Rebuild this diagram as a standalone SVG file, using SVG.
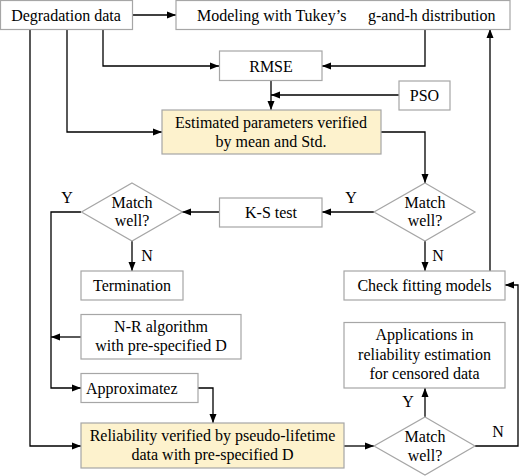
<svg xmlns="http://www.w3.org/2000/svg" width="520" height="476" viewBox="0 0 520 476">
<defs>
<marker id="ah" markerUnits="userSpaceOnUse" markerWidth="9" markerHeight="8" refX="9" refY="4" orient="auto">
<path d="M0,0.5 L9,4 L0,7.5 Z" fill="#000"/>
</marker>
<style>
.box{fill:#fff;stroke:#a6a6a6;stroke-width:1.2}
.hl{fill:#fdf2cd;stroke:#a6a6a6;stroke-width:1.2}
.dm{fill:#fff;stroke:#a6a6a6;stroke-width:1.2}
text{font-family:"Liberation Serif","Times New Roman",serif;font-size:16px;fill:#000}
.c{text-anchor:middle}
.cn{fill:none;stroke:#000;stroke-width:1.3}
.ar{marker-end:url(#ah)}
</style>
</defs>
<rect width="520" height="476" fill="#fff"/>
<g id="connectors">
<path class="cn ar" d="M132,15 H176"/>
<path class="cn ar" d="M103,29 V66 H219"/>
<path class="cn ar" d="M425,29 V66 H322"/>
<path class="cn ar" d="M271,80 V110"/>
<path class="cn ar" d="M399,95 H271"/>
<path class="cn ar" d="M67,29 V132 H162"/>
<path class="cn ar" d="M381,132 H425 V183"/>
<path class="cn ar" d="M30,29 V446 H81"/>
<path class="cn ar" d="M374,212 H322"/>
<path class="cn ar" d="M219,212 H182"/>
<path class="cn ar" d="M132,241 V271"/>
<path class="cn ar" d="M425,241 V271"/>
<path class="cn ar" d="M490,271 V29"/>
<path class="cn ar" d="M81,212 H51 V388 H81"/>
<path class="cn ar" d="M81,337 H51"/>
<path class="cn ar" d="M198,388 H213 V423"/>
<path class="cn ar" d="M344,446 H374"/>
<path class="cn ar" d="M425,417 V388"/>
<path class="cn ar" d="M475,446 H518 V285 H505"/>
</g>
<g id="labels">
<text class="c" x="67" y="203">Y</text>
<text class="c" x="351" y="203">Y</text>
<text class="c" x="147" y="261">N</text>
<text class="c" x="438" y="261">N</text>
<text class="c" x="408" y="407">Y</text>
<text class="c" x="498" y="437">N</text>
</g>
<g id="degradation">
<rect class="box" x="0.5" y="0.5" width="132" height="29"/>
<text class="c" x="66" y="21">Degradation data</text>
</g>
<g id="modeling">
<rect class="box" x="176" y="0.5" width="334" height="29"/>
<text x="197" y="21">Modeling with Tukey’s</text>
<text x="368" y="21">g-and-h distribution</text>
</g>
<g id="rmse">
<rect class="box" x="219.5" y="51" width="102.5" height="29.5"/>
<text class="c" x="271" y="71.5">RMSE</text>
</g>
<g id="pso">
<rect class="box" x="399" y="81" width="51" height="29"/>
<text class="c" x="424.5" y="101">PSO</text>
</g>
<g id="estimated">
<rect class="hl" x="162" y="110" width="219" height="44"/>
<text class="c" x="271" y="128">Estimated parameters verified</text>
<text class="c" x="271" y="147">by mean and Std.</text>
</g>
<g id="match1">
<polygon class="dm" points="425,183 475,212 425,241 374,212"/>
<text class="c" x="425" y="207.5">Match</text>
<text class="c" x="425" y="226">well?</text>
</g>
<g id="kstest">
<rect class="box" x="219.5" y="198" width="102.5" height="29"/>
<text class="c" x="271" y="218">K-S test</text>
</g>
<g id="match2">
<polygon class="dm" points="132,183 182.5,212 132,241 81.5,212"/>
<text class="c" x="132" y="207.5">Match</text>
<text class="c" x="132" y="226">well?</text>
</g>
<g id="termination">
<rect class="box" x="81" y="271" width="102" height="29"/>
<text class="c" x="132" y="291">Termination</text>
</g>
<g id="check">
<rect class="box" x="344" y="271" width="161" height="29"/>
<text class="c" x="424.5" y="291">Check fitting models</text>
</g>
<g id="nr">
<rect class="box" x="81" y="314.5" width="160" height="44.5"/>
<text class="c" x="161" y="332">N-R algorithm</text>
<text class="c" x="161" y="351">with pre-specified D</text>
</g>
<g id="approx">
<rect class="box" x="81" y="373.5" width="117" height="29"/>
<text x="86" y="394">Approximatez</text>
</g>
<g id="applications">
<rect class="box" x="344" y="322.5" width="161" height="65.5"/>
<text class="c" x="424.5" y="340">Applications in</text>
<text class="c" x="424.5" y="359.5">reliability estimation</text>
<text class="c" x="424.5" y="379">for censored data</text>
</g>
<g id="reliability">
<rect class="hl" x="81" y="423" width="263" height="45"/>
<text class="c" x="212.5" y="441">Reliability verified by pseudo-lifetime</text>
<text class="c" x="212.5" y="459.5">data with pre-specified D</text>
</g>
<g id="match3">
<polygon class="dm" points="425,417 475,446 425,475 374,446"/>
<text class="c" x="425" y="442">Match</text>
<text class="c" x="425" y="460.5">well?</text>
</g>
</svg>
